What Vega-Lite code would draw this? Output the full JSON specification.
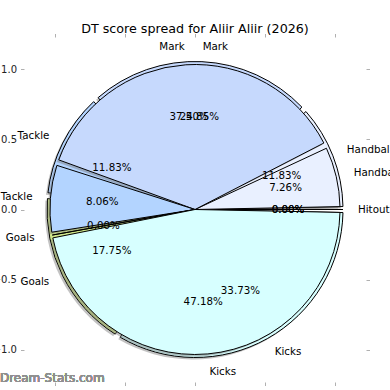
{
  "$schema": "https://vega.github.io/schema/vega-lite/v6.json",
  "width": 342,
  "height": 345,
  "autosize": {"type": "none"},
  "padding": {"left": 24, "top": 37, "right": 24, "bottom": 8},
  "background": "white",
  "title": {"text": "DT score spread for Aliir Aliir (2026)", "font": "DejaVu Sans", "fontSize": 12.7, "fontWeight": "normal", "color": "#000000", "anchor": "middle", "offset": -3},
  "config": {
    "view": {"stroke": null},
    "axis": {"domain": false, "grid": false, "tickColor": "#b0b0b0", "tickSize": 3.5, "tickWidth": 1, "labelFont": "DejaVu Sans", "labelFontSize": 10, "labelColor": "#222222", "labelPadding": 4, "title": null}
  },
  "data": {"values": [
    {"pie": "B", "k": 1, "cat": "Hitout", "pct": 0.0},
    {"pie": "B", "k": 2, "cat": "Handball", "pct": 0.1183},
    {"pie": "B", "k": 3, "cat": "Mark", "pct": 0.2485},
    {"pie": "B", "k": 4, "cat": "Tackle", "pct": 0.1183},
    {"pie": "B", "k": 5, "cat": "Goals", "pct": 0.1775},
    {"pie": "B", "k": 6, "cat": "Kicks", "pct": 0.3373},
    {"pie": "A", "k": 1, "cat": "Hitout", "pct": 0.0},
    {"pie": "A", "k": 2, "cat": "Handball", "pct": 0.0726},
    {"pie": "A", "k": 3, "cat": "Mark", "pct": 0.3750},
    {"pie": "A", "k": 4, "cat": "Tackle", "pct": 0.0806},
    {"pie": "A", "k": 5, "cat": "Goals", "pct": 0.0},
    {"pie": "A", "k": 6, "cat": "Kicks", "pct": 0.4718}
  ]},
  "resolve": {"axis": {"x": "independent", "y": "independent"}},
  "layer": [
    {
      "mark": {"type": "point", "opacity": 0},
      "encoding": {
        "x": {"datum": 0, "type": "quantitative", "scale": {"domain": [-1.221, 1.221], "nice": false, "zero": false}, "axis": {"orient": "bottom", "values": [-1, -0.5, 0, 0.5, 1], "format": ".1f"}},
        "y": {"datum": 0, "type": "quantitative", "scale": {"domain": [-1.232, 1.232], "nice": false, "zero": false}, "axis": {"orient": "left", "values": [-1, -0.5, 0, 0.5, 1], "format": ".1f"}}
      }
    },
    {
      "mark": {"type": "point", "opacity": 0},
      "encoding": {
        "x": {"datum": 0, "type": "quantitative", "axis": {"orient": "top", "values": [-1, -0.5, 0, 0.5, 1], "labels": false}},
        "y": {"datum": 0, "type": "quantitative", "axis": {"orient": "right", "values": [-1, -0.5, 0, 0.5, 1], "labels": false}}
      }
    },
    {
      "transform": [{"filter": "datum.pie == 'B'"}],
      "mark": {"type": "arc", "outerRadius": 148, "innerRadius": 0, "padAngle": 0.04, "fill": "#777777", "opacity": 0.45, "xOffset": -2, "yOffset": 2},
      "encoding": {
        "theta": {"field": "pct", "type": "quantitative", "stack": true, "scale": {"domain": [0, 1], "range": [1.5707963, -4.712389]}},
        "order": {"field": "k", "type": "quantitative"},
        "detail": {"field": "cat"}
      }
    },
    {
      "transform": [{"filter": "datum.pie == 'B'"}],
      "mark": {"type": "arc", "outerRadius": 148, "innerRadius": 0, "padAngle": 0.04, "stroke": "#000000", "strokeWidth": 1},
      "encoding": {
        "theta": {"field": "pct", "type": "quantitative", "stack": true},
        "order": {"field": "k", "type": "quantitative"},
        "color": {"field": "cat", "type": "nominal", "legend": null, "scale": {"domain": ["Hitout", "Handball", "Mark", "Tackle", "Goals", "Kicks"], "range": ["#f2f2f2", "#e9f0ff", "#c6d9fd", "#b3d4ff", "#cfe68a", "#d7ffff"]}}
      }
    },
    {
      "transform": [{"filter": "datum.pie == 'A'"}],
      "mark": {"type": "arc", "outerRadius": 145, "innerRadius": 0, "padAngle": 0.04, "fill": "#777777", "opacity": 0.45, "xOffset": -2, "yOffset": 2},
      "encoding": {
        "theta": {"field": "pct", "type": "quantitative", "stack": true},
        "order": {"field": "k", "type": "quantitative"},
        "detail": {"field": "cat"}
      }
    },
    {
      "transform": [{"filter": "datum.pie == 'A'"}],
      "mark": {"type": "arc", "outerRadius": 145, "innerRadius": 0, "padAngle": 0.04, "stroke": "#000000", "strokeWidth": 1},
      "encoding": {
        "theta": {"field": "pct", "type": "quantitative", "stack": true},
        "order": {"field": "k", "type": "quantitative"},
        "color": {"field": "cat", "type": "nominal", "legend": null}
      }
    },
    {
      "transform": [{"filter": "datum.pie == 'B'"}],
      "mark": {"type": "text", "radius": 93, "font": "DejaVu Sans", "fontSize": 10.3, "color": "#000000", "align": "center", "baseline": "middle"},
      "encoding": {
        "theta": {"field": "pct", "type": "quantitative", "stack": true},
        "order": {"field": "k", "type": "quantitative"},
        "detail": {"field": "cat"},
        "text": {"field": "pct", "type": "quantitative", "format": ".2%"}
      }
    },
    {
      "transform": [{"filter": "datum.pie == 'A'"}],
      "mark": {"type": "text", "radius": 93, "font": "DejaVu Sans", "fontSize": 10.3, "color": "#000000", "align": "center", "baseline": "middle"},
      "encoding": {
        "theta": {"field": "pct", "type": "quantitative", "stack": true},
        "order": {"field": "k", "type": "quantitative"},
        "detail": {"field": "cat"},
        "text": {"field": "pct", "type": "quantitative", "format": ".2%"}
      }
    },
    {
      "transform": [{"filter": "datum.pie == 'B'"}],
      "mark": {"type": "text", "radius": 163, "font": "DejaVu Sans", "fontSize": 10.3, "color": "#000000", "align": "left", "baseline": "middle"},
      "encoding": {
        "theta": {"field": "pct", "type": "quantitative", "stack": true},
        "order": {"field": "k", "type": "quantitative"},
        "detail": {"field": "cat"},
        "text": {"field": "cat"},
        "opacity": {"condition": {"test": "datum.cat == 'Hitout' || datum.cat == 'Handball' || datum.cat == 'Kicks' || datum.cat == 'Mark'", "value": 1}, "value": 0}
      }
    },
    {
      "transform": [{"filter": "datum.pie == 'B'"}],
      "mark": {"type": "text", "radius": 163, "font": "DejaVu Sans", "fontSize": 10.3, "color": "#000000", "align": "right", "baseline": "middle"},
      "encoding": {
        "theta": {"field": "pct", "type": "quantitative", "stack": true},
        "order": {"field": "k", "type": "quantitative"},
        "detail": {"field": "cat"},
        "text": {"field": "cat"},
        "opacity": {"condition": {"test": "datum.cat == 'Tackle' || datum.cat == 'Goals'", "value": 1}, "value": 0}
      }
    },
    {
      "transform": [{"filter": "datum.pie == 'A'"}],
      "mark": {"type": "text", "radius": 163, "font": "DejaVu Sans", "fontSize": 10.3, "color": "#000000", "align": "left", "baseline": "middle"},
      "encoding": {
        "theta": {"field": "pct", "type": "quantitative", "stack": true},
        "order": {"field": "k", "type": "quantitative"},
        "detail": {"field": "cat"},
        "text": {"field": "cat"},
        "opacity": {"condition": {"test": "datum.cat == 'Handball' || datum.cat == 'Kicks'", "value": 1}, "value": 0}
      }
    },
    {
      "transform": [{"filter": "datum.pie == 'A'"}],
      "mark": {"type": "text", "radius": 163, "font": "DejaVu Sans", "fontSize": 10.3, "color": "#000000", "align": "right", "baseline": "middle"},
      "encoding": {
        "theta": {"field": "pct", "type": "quantitative", "stack": true},
        "order": {"field": "k", "type": "quantitative"},
        "detail": {"field": "cat"},
        "text": {"field": "cat"},
        "opacity": {"condition": {"test": "datum.cat == 'Mark' || datum.cat == 'Tackle' || datum.cat == 'Goals'", "value": 1}, "value": 0}
      }
    },
    {
      "mark": {"type": "text", "font": "DejaVu Sans", "fontSize": 12, "color": "#8f8f8f", "align": "left", "baseline": "middle"},
      "encoding": {
        "x": {"datum": -1.393, "type": "quantitative", "axis": null},
        "y": {"datum": -1.2, "type": "quantitative", "axis": null},
        "text": {"value": "Dream-Stats.com"}
      }
    }
  ]
}
